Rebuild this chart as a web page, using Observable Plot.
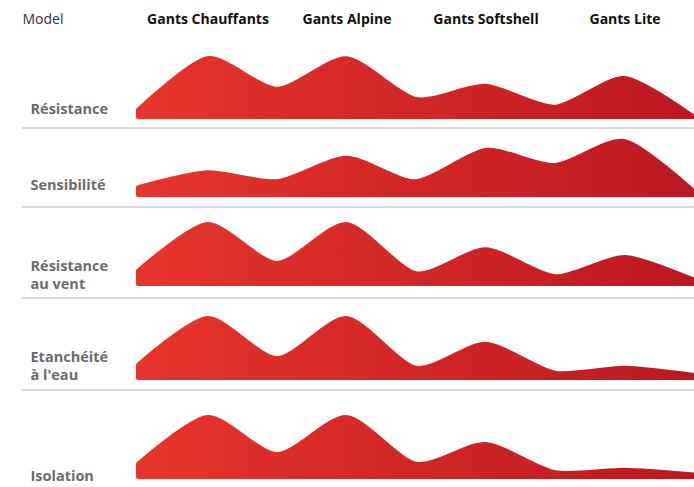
<!DOCTYPE html>
<html>
<head>
<meta charset="utf-8">
<script src="https://cdn.jsdelivr.net/npm/d3@7"></script>
<script src="https://cdn.jsdelivr.net/npm/@observablehq/plot@0.6"></script>
<style>
  html, body { margin: 0; padding: 0; background: #fff; }
  #chart { width: 694px; font-family: "Open Sans", sans-serif; }
  #chart svg { display: block; }
</style>
</head>
<body>
<div id="chart"></div>
<script>
// ---- data ----
const headerLabel = "Model";
const models = ["Gants Chauffants", "Gants Alpine", "Gants Softshell", "Gants Lite"];
const attributes = ["Résistance", "Sensibilité", "Résistance\nau vent", "Etanchéité\nà l'eau", "Isolation"];
// 9 points per row: start, Chauffants, dip, Alpine, dip, Softshell, dip, Lite, end
const resistance  = [12, 98, 47, 98, 30, 52, 17, 65, 0];
const sensibilite = [13, 38, 23, 62, 23, 75, 50, 90, 6];
const resVent     = [22, 100, 35, 100, 18, 58, 13, 45, 7];
const etancheite  = [22, 100, 33, 100, 17, 57, 9, 17, 5];
const isolation   = [22, 100, 38, 100, 22, 55, 8, 12, 4];
const series = [resistance, sensibilite, resVent, etancheite, isolation];

// ---- layout ----
const W = 694;
const X0 = -1.669, X1 = 8.0;            // x domain (index space)
const XL = -1.554;                       // row label anchor
const rows = [
  {h: 88, mt: 17, mb: 11, ldy: -4},
  {h: 79, mt: 7,  mb: 12, ldy: -6},
  {h: 91, mt: 17, mb: 14, ldy: 4},
  {h: 92, mt: 20, mb: 12, ldy: 1},
  {h: 97, mt: 27, mb: 10, ldy: 3}
];

const chart = document.getElementById("chart");
const font = "'Open Sans', sans-serif";

// header
const header = Plot.plot({
  width: W, height: 40,
  marginLeft: 22, marginRight: 0, marginTop: 0, marginBottom: 0,
  style: {fontFamily: font, background: "#fff"},
  x: {domain: [X0, X1], axis: null},
  y: {domain: [0, 1], axis: null},
  marks: [
    Plot.text([headerLabel], {x: X0, y: 0.52, text: d => d, textAnchor: "start", fontSize: 14, fill: "#333"}),
    Plot.text(models, {x: (d, i) => 2 * i + 1, y: 0.52, text: d => d, textAnchor: "middle", fontSize: 14, fontWeight: 700, fill: "#111"})
  ]
});
chart.appendChild(header);

function gradientMark(id) {
  return () => {
    const ns = "http://www.w3.org/2000/svg";
    const defs = document.createElementNS(ns, "defs");
    const lg = document.createElementNS(ns, "linearGradient");
    lg.setAttribute("id", id);
    lg.setAttribute("gradientUnits", "userSpaceOnUse");
    lg.setAttribute("x1", "140"); lg.setAttribute("x2", "694");
    lg.setAttribute("y1", "0"); lg.setAttribute("y2", "0");
    [["0", "#e6352c"], ["1", "#bc1822"]].forEach(([o, c]) => {
      const s = document.createElementNS(ns, "stop");
      s.setAttribute("offset", o); s.setAttribute("stop-color", c);
      lg.appendChild(s);
    });
    defs.appendChild(lg);
    return defs;
  };
}

series.forEach((vals, r) => {
  const R = rows[r];
  const gid = "grad" + r;
  const data = vals.map((v, i) => ({i, v}));
  const p = Plot.plot({
    width: W, height: R.h,
    marginLeft: 22, marginRight: 0, marginTop: R.mt, marginBottom: R.mb,
    style: {fontFamily: font, background: "#fff", overflow: "visible"},
    x: {domain: [X0, X1], axis: null},
    y: {domain: [0, 100], axis: null},
    marks: [
      gradientMark(gid),
      Plot.areaY(data, {x: "i", y: "v", curve: "cardinal", tension: 0.25,
        fill: `url(#${gid})`, stroke: `url(#${gid})`, strokeWidth: 4, strokeLinejoin: "round"}),
      Plot.text([attributes[r]], {x: XL, y: 0, text: d => d, textAnchor: "start", lineAnchor: "bottom",
        lineHeight: 1.2, dy: R.ldy, fontSize: 14.5, fontWeight: 700, fill: "#6b6b6b"}),
      r < series.length - 1
        ? Plot.ruleY([0], {x1: X0, x2: X1, dy: R.mb - 0.5, stroke: "#c9cdd5", strokeWidth: 1.5})
        : null
    ]
  });
  chart.appendChild(p);
});
</script>
</body>
</html>
